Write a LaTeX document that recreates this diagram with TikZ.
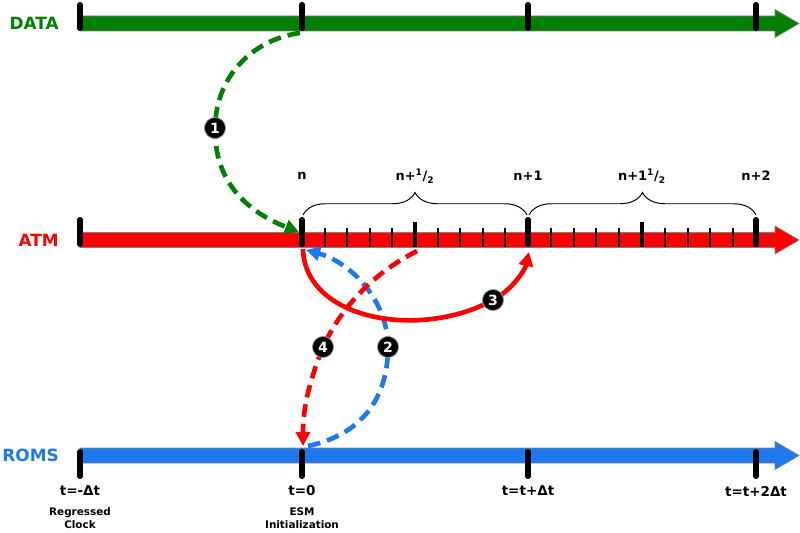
\documentclass[tikz,border=0pt]{standalone}
\usepackage{fontspec}
\setmainfont{DejaVu Sans}
\usetikzlibrary{arrows.meta,decorations.pathreplacing}

\definecolor{datagreen}{RGB}{0,128,0}
\definecolor{atmred}{RGB}{255,0,0}
\definecolor{romsblue}{RGB}{30,120,240}

\tikzset{
  axislabel/.style={anchor=east,inner sep=0pt,font=\fontsize{12}{14}\selectfont\bfseries},
  ticklabel/.style={font=\fontsize{9.2}{11}\selectfont\bfseries},
  timelabel/.style={font=\fontsize{9.6}{11}\selectfont\bfseries},
  notelabel/.style={align=center,font=\fontsize{7.4}{9.4}\selectfont\bfseries},
  major/.style={line width=3.6pt,line cap=round},
  minor/.style={line width=1.4pt},
  half/.style={line width=2.2pt},
  halfbrace/.style={decorate,decoration={brace,amplitude=16pt},line width=0.7pt},
  badge/.style={circle,fill=black,draw=black!40,line width=0.6pt,inner sep=0pt,
    minimum size=15pt,text=white,font=\fontsize{10}{10}\selectfont\bfseries},
  flow/.style={line width=3.3pt,-{Triangle[length=10pt,width=10pt]}},
  dashflow/.style={flow,dash pattern=on 9pt off 5pt},
}

\begin{document}
\begin{tikzpicture}[x=0.025cm,y=-0.025cm]
\useasboundingbox (0,0) rectangle (800,532);

% time axes
\foreach \c/\y in {datagreen/23.5,atmred/240,romsblue/455.5}
  \fill[\c,draw=black!50,line width=0.5pt] (80,\y-7.5) -- (775,\y-7.5) -- (775,\y-14)
    -- (799,\y) -- (775,\y+14) -- (775,\y+7.5) -- (80,\y+7.5) -- cycle;

\node[axislabel,text=datagreen] (data) at (59,23.5) {DATA};
\node[axislabel,text=atmred] (atm) at (59,240) {ATM};
\node[axislabel,text=romsblue] (roms) at (59,455.5) {ROMS};

% ticks
\foreach \x in {80,302,528,756} {
  \draw[major] (\x,4.5) -- (\x,28.5);
  \draw[major] (\x,219.5) -- (\x,244.5);
  \draw[major] (\x,451.5) -- (\x,476.5);
}
\foreach \s/\w in {302/22.6,528/22.8}
  \foreach \i in {1,2,3,4,6,7,8,9}
    \draw[minor] (\s+\i*\w,228) -- (\s+\i*\w,247);
\draw[half] (415,222) -- (415,247);
\draw[half] (642,222) -- (642,247);

\draw[halfbrace] (303,215) -- (527,215);
\draw[halfbrace] (529,215) -- (756,215);

\node[ticklabel] (n0) at (302,176) {n};
\node[ticklabel] (n05) at (415,176) {n+\textsuperscript{1}/\textsubscript{2}};
\node[ticklabel] (n1) at (528,176) {n+1};
\node[ticklabel] (n15) at (642,176) {n+1\textsuperscript{1}/\textsubscript{2}};
\node[ticklabel] (n2) at (756,176) {n+2};

\node[timelabel] (tm) at (80,491) {t=-Δt};
\node[timelabel] (t0) at (302,491) {t=0};
\node[timelabel] (t1) at (528,491) {t=t+Δt};
\node[timelabel] (t2) at (756,491) {t=t+2Δt};
\node[notelabel] (clock) at (80,518) {Regressed\\Clock};
\node[notelabel] (esm) at (302,518) {ESM\\Initialization};

% connectors
\coordinate (dataN) at (300,33);
\coordinate (atmIn) at (299,232);
\coordinate (atmN) at (303,249);
\coordinate (atmBlue) at (306,250);
\coordinate (atmN1) at (529,252);
\coordinate (atmHalf) at (417,251);
\coordinate (romsIn) at (308,446);
\coordinate (romsRed) at (303,446);
\coordinate (p1) at (215,128);
\coordinate (p2) at (388,347);
\coordinate (p3) at (493,300);
\coordinate (p4) at (323,347);

\draw[dashflow,datagreen] (dataN) .. controls (260,38) and (216,70) .. (p1)
  .. controls (214,190) and (258,216) .. (atmIn);
\draw[dashflow,romsblue] (romsIn) .. controls (360,435) and (388,400) .. (p2)
  .. controls (388,300) and (350,262) .. (atmBlue);
\draw[dashflow,atmred] (atmHalf) .. controls (370,275) and (340,310) .. (p4)
  .. controls (308,385) and (303,410) .. (romsRed);
\draw[flow,atmred] (atmN) .. controls (305,320) and (420,340) .. (p3)
  .. controls (512,290) and (525,270) .. (atmN1);

\node[badge] (b1) at (p1) {1};
\node[badge] (b2) at (p2) {2};
\node[badge] (b3) at (p3) {3};
\node[badge] (b4) at (p4) {4};
\end{tikzpicture}
\end{document}
